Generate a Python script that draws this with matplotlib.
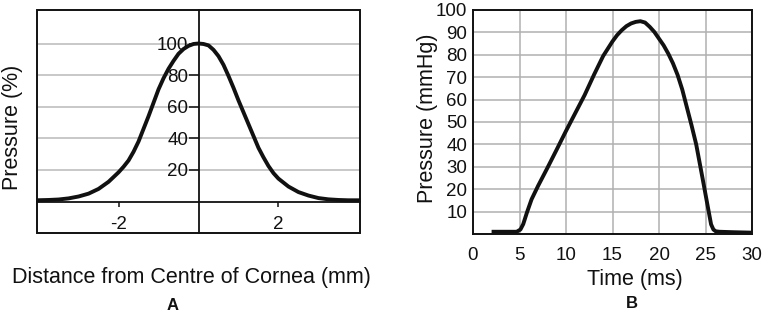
#!/usr/bin/env python3
"""Corneal pressure profile (A) and air-puff pressure pulse (B)."""

import matplotlib
matplotlib.use('Agg')
import matplotlib.pyplot as plt
from matplotlib.patches import Rectangle

plt.rcParams['font.family'] = ['Liberation Sans', 'DejaVu Sans']
plt.rcParams['axes.unicode_minus'] = False

# Panel A: pressure across the cornea
dist_mm = [-4.05, -3.75, -3.5, -3.25, -3.0, -2.75, -2.5, -2.25, -2.0, -1.875,
           -1.75, -1.625, -1.5, -1.375, -1.25, -1.125, -1.0, -0.875, -0.75,
           -0.625, -0.5, -0.375, -0.25, -0.125, 0.0, 0.125, 0.25, 0.375, 0.5,
           0.625, 0.75, 0.875, 1.0, 1.125, 1.25, 1.375, 1.5, 1.625, 1.75,
           1.875, 2.0, 2.25, 2.5, 2.75, 3.0, 3.25, 3.5, 3.75, 4.05]
pressure_pct = [0.8, 1.0, 1.3, 2.0, 3.2, 5.0, 8.0, 12.5, 18.5, 22.0,
                26.0, 31.5, 38.0, 46.0, 54.0, 62.5, 71.0, 78.0, 84.0,
                89.0, 93.5, 96.5, 98.5, 99.7, 100.0, 99.7, 98.8, 96.0, 92.0,
                86.5, 79.5, 72.0, 64.0, 56.5, 49.0, 41.5, 34.0, 28.0, 22.5,
                18.0, 14.5, 9.5, 6.0, 3.8, 2.2, 1.4, 1.0, 0.8, 0.8]
a_xticks = [-2, 2]
a_yticks = [20, 40, 60, 80, 100]

# Panel B: pressure pulse over time
time_ms = [2.0, 4.7, 5.1, 5.4, 5.8, 6.3, 7.0, 8.0, 9.0, 10.0, 11.0, 12.0,
           13.0, 14.0, 15.0, 15.5, 16.0, 16.5, 17.0, 17.5, 18.0, 18.5, 19.0,
           19.5, 20.0, 20.5, 21.0, 21.5, 22.0, 22.5, 23.0, 23.5, 24.0, 24.7,
           25.3, 25.6, 25.85, 26.1, 26.5, 28.0, 30.0]
pressure_mmhg = [1.0, 1.0, 2.0, 4.4, 9.6, 15.5, 21.5, 29.5, 37.7, 46.0, 54.0, 62.0,
                 71.0, 79.5, 86.0, 88.8, 91.0, 92.8, 94.0, 94.7, 95.0, 94.4, 92.5,
                 90.2, 87.2, 84.2, 80.5, 76.2, 71.0, 64.5, 56.5, 48.5, 40.0, 24.5,
                 11.0, 4.3, 2.0, 1.2, 1.0, 0.8, 0.6]
b_xticks = [0, 5, 10, 15, 20, 25, 30]
b_yticks = [10, 20, 30, 40, 50, 60, 70, 80, 90, 100]

W, H = 765, 320
TICK_FS = 13.5
LABEL_FS = 15.5


def px_axes(left, top, right, bottom):
    return [left / W, 1 - bottom / H, (right - left) / W, (bottom - top) / H]


fig = plt.figure(figsize=(W / 100, H / 100), dpi=100)

# ---- A ----
ax = fig.add_axes(px_axes(37, 10, 360, 233))
ax.plot(dist_mm, pressure_pct, color='#111111', lw=2.8, clip_on=False,
        solid_capstyle='butt', solid_joinstyle='round', zorder=4)
ax.set_xlim(-4.04, 4.04)
ax.set_ylim(-19.9, 121.2)
for s in ('top', 'right'):
    ax.spines[s].set_visible(False)
ax.spines['left'].set_position(('data', 0))
ax.spines['bottom'].set_position(('data', 0))
for s in ('left', 'bottom'):
    ax.spines[s].set_linewidth(1.3)
    ax.spines[s].set_color('#111111')
ax.add_patch(Rectangle((0, 0), 1, 1, transform=ax.transAxes, fill=False,
                       lw=1.4, edgecolor='#111111', clip_on=False, zorder=5))
ax.set_xticks(a_xticks)
ax.set_xticklabels([str(v) for v in a_xticks])
ax.set_yticks(a_yticks)
ax.tick_params(axis='y', direction='out', length=7, width=1.1, pad=0.5,
               labelsize=TICK_FS, colors='#111111')
ax.tick_params(axis='x', direction='out', length=3.5, width=1.1, pad=7,
               labelsize=TICK_FS, colors='#111111')
ax.yaxis.grid(True, color='#c4c4c4', lw=1.3)
ax.set_axisbelow(True)

fig.text(191 / W, 1 - 277 / H, 'Distance from Centre of Cornea (mm)',
         ha='center', va='center', fontsize=LABEL_FS, color='#111111')
fig.text(12.5 / W, 1 - 127 / H, 'Pressure (%)', rotation=90,
         ha='center', va='center', fontsize=LABEL_FS, color='#111111')
fig.text(173 / W, 1 - 305 / H, 'A', ha='center', va='center',
         fontsize=12, fontweight='bold', color='#111111')

# ---- B ----
bx = fig.add_axes(px_axes(473, 10, 752, 234))
bx.plot(time_ms, pressure_mmhg, color='#111111', lw=2.8, clip_on=False,
        solid_capstyle='butt', solid_joinstyle='round', zorder=4)
bx.set_xlim(0, 30)
bx.set_ylim(0, 100)
bx.set_xticks(b_xticks)
bx.set_yticks(b_yticks)
bx.tick_params(axis='both', length=0, labelsize=TICK_FS, colors='#111111')
bx.tick_params(axis='x', pad=9)
bx.tick_params(axis='y', pad=4)
bx.grid(True, color='#b0b0b0', lw=1.1)
bx.set_axisbelow(True)
for s in bx.spines.values():
    s.set_linewidth(1.4)
    s.set_color('#111111')

fig.text(635 / W, 1 - 279 / H, 'Time (ms)', ha='center', va='center',
         fontsize=LABEL_FS, color='#111111')
fig.text(427 / W, 1 - 118 / H, 'Pressure (mmHg)', rotation=90,
         ha='center', va='center', fontsize=LABEL_FS, color='#111111')
fig.text(631.5 / W, 1 - 304 / H, 'B', ha='center', va='center',
         fontsize=12, fontweight='bold', color='#111111')

fig.savefig('out.png', dpi=100)
